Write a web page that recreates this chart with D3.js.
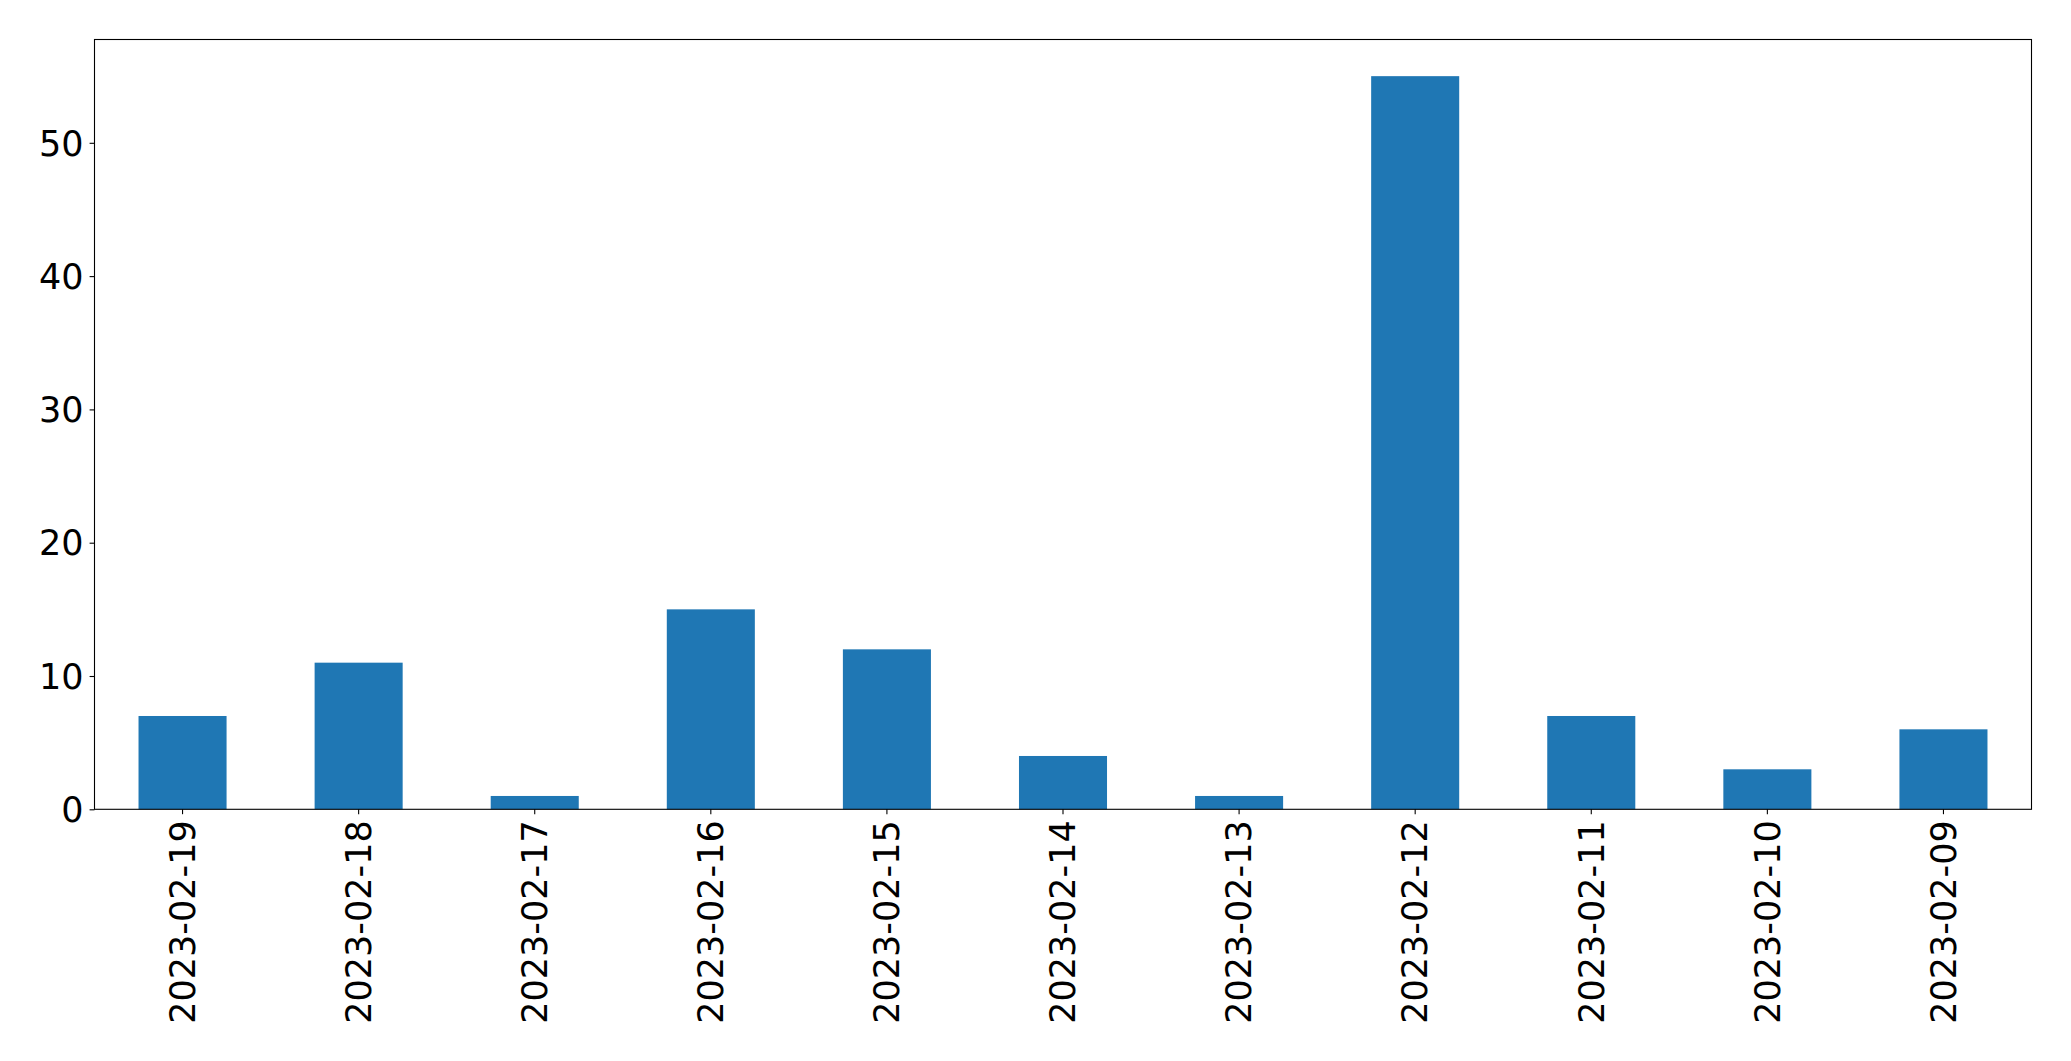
<!DOCTYPE html>
<html>
<head>
<meta charset="utf-8">
<script src="https://cdn.jsdelivr.net/npm/d3@7"></script>
<style>
  html, body { margin: 0; padding: 0; background: #fff; }
  svg { display: block; }
  text { font-family: "DejaVu Sans", sans-serif; fill: #000; }
</style>
</head>
<body>
<svg id="chart" width="2071" height="1061"></svg>
<script>
const categories = ["2023-02-19","2023-02-18","2023-02-17","2023-02-16","2023-02-15","2023-02-14","2023-02-13","2023-02-12","2023-02-11","2023-02-10","2023-02-09"];
const values = [7, 11, 1, 15, 12, 4, 1, 55, 7, 3, 6];
const yTicks = [0, 10, 20, 30, 40, 50];

const W = 2071, H = 1061;
const m = {left: 94.5, right: 2031.5, top: 39.5, bottom: 809.3};
const svg = d3.select("#chart");

const x = d3.scaleBand().domain(categories).range([m.left, m.right]).paddingInner(0.5).paddingOuter(0.25);
const y = d3.scaleLinear().domain([0, d3.max(values) * 1.05]).range([m.bottom, m.top]);

svg.append("g").selectAll("rect").data(values).join("rect")
  .attr("x", (d, i) => x(categories[i]))
  .attr("width", x.bandwidth())
  .attr("y", d => y(d))
  .attr("height", d => y(0) - y(d))
  .attr("fill", "#1f77b4");

const fs = "35px";

const yAxis = svg.append("g").attr("transform", `translate(${m.left},0)`)
  .call(d3.axisLeft(y).tickValues(yTicks).tickSize(4.9).tickPadding(6).tickFormat(d3.format("d")));
yAxis.select(".domain").remove();
yAxis.selectAll("line").attr("stroke", "#000").attr("stroke-width", 1.1);
yAxis.selectAll("text").style("font-size", fs).attr("fill", "#000").attr("dy", "0.35em");

const xAxis = svg.append("g").attr("transform", `translate(0,${m.bottom})`)
  .call(d3.axisBottom(x).tickSize(4.9).tickPadding(5));
xAxis.select(".domain").remove();
xAxis.selectAll("line").attr("stroke", "#000").attr("stroke-width", 1.1);
xAxis.selectAll("text")
  .style("font-size", fs).attr("fill", "#000")
  .attr("text-anchor", "end")
  .attr("transform", "rotate(-90)")
  .attr("x", -11).attr("y", 0).attr("dy", "0.35em");

svg.append("rect")
  .attr("x", m.left).attr("y", m.top)
  .attr("width", m.right - m.left).attr("height", m.bottom - m.top)
  .attr("fill", "none").attr("stroke", "#000").attr("stroke-width", 1.1);
</script>
</body>
</html>
